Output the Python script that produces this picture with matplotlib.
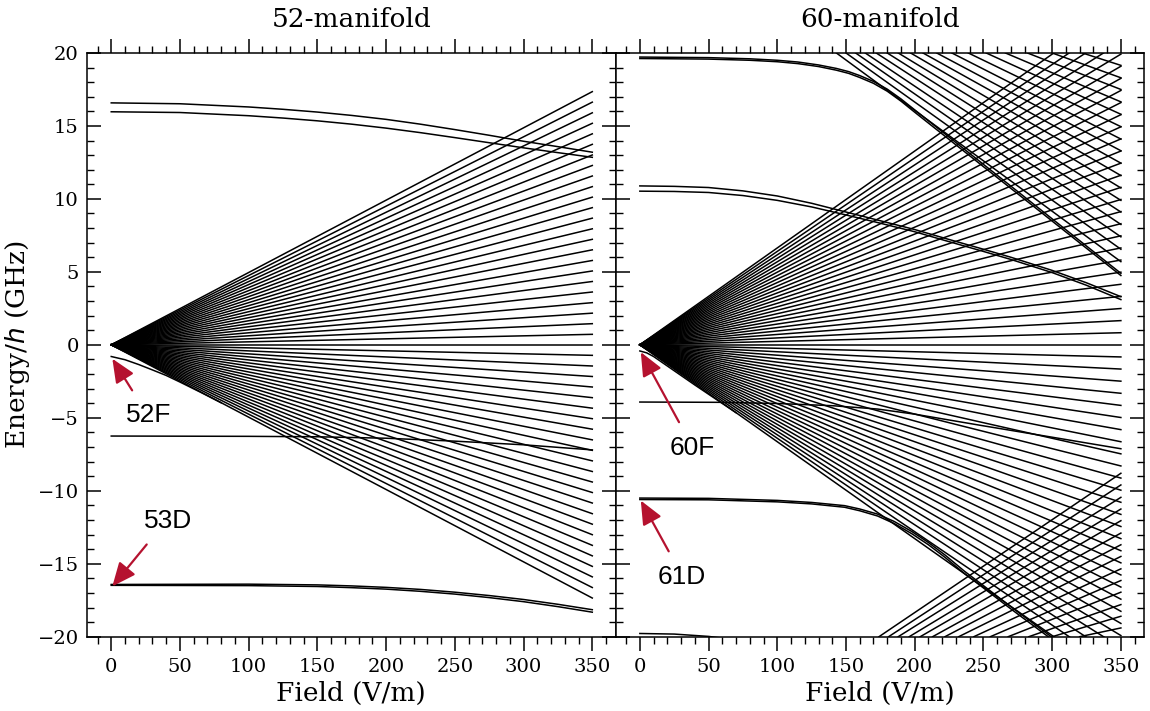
import matplotlib
matplotlib.use("Agg")
import matplotlib.pyplot as plt
from matplotlib.ticker import MultipleLocator

# ---- 52-manifold (left) ----
# hydrogenic fan from the origin: energy (GHz) reached at 350 V/m
fan52_ends = [17.35, 16.63, 15.90, 15.18, 14.46, 13.74, 13.01, 12.29, 11.57, 10.84,
              10.12, 9.40, 8.68, 7.95, 7.23, 6.51, 5.78, 5.06, 4.34, 3.62,
              2.89, 2.17, 1.45, 0.72, 0.00, -0.72, -1.45, -2.17, -2.89, -3.62,
              -4.34, -5.06, -5.78, -6.51, -7.23, -7.95, -8.68, -9.40, -10.12, -10.84,
              -11.57, -12.29, -13.01, -13.74, -14.46, -15.18, -15.90, -16.63, -17.35]

# low-l levels (field V/m, energy GHz)
upper52_x = [0, 50, 100, 125, 150, 175, 200, 225, 250, 275, 300, 325, 350]
upper52_a = [16.58, 16.52, 16.30, 16.14, 15.95, 15.72, 15.45, 15.12, 14.75, 14.36, 13.95, 13.58, 13.20]
upper52_b = [15.97, 15.92, 15.70, 15.54, 15.35, 15.12, 14.85, 14.54, 14.20, 13.85, 13.50, 13.17, 12.85]

f52_x = [0, 10, 20, 30, 40, 50, 65, 80]
f52_y = [-0.80, -1.02, -1.35, -1.72, -2.10, -2.55, -3.25, -3.97]

s52_x = [0, 100, 150, 200, 250, 300, 350]
s52_y = [-6.25, -6.27, -6.30, -6.40, -6.60, -6.85, -7.20]

d53_x = [0, 100, 150, 175, 200, 225, 250, 275, 300, 325, 350]
d53_a = [-16.42, -16.40, -16.45, -16.52, -16.62, -16.76, -16.95, -17.18, -17.45, -17.78, -18.15]
d53_b = [-16.48, -16.50, -16.56, -16.64, -16.74, -16.89, -17.08, -17.32, -17.60, -17.94, -18.32]

# ---- 60-manifold (right) ----
fan60_ends = [23.24, 22.41, 21.58, 20.75, 19.92, 19.09, 18.26, 17.43, 16.60, 15.77,
              14.94, 14.11, 13.28, 12.45, 11.62, 10.79, 9.96, 9.13, 8.30, 7.47,
              6.64, 5.81, 4.98, 4.15, 3.32, 2.49, 1.66, 0.83, 0.00, -0.83,
              -1.66, -2.49, -3.32, -4.15, -4.98, -5.81, -6.64, -7.47, -8.30, -9.13,
              -9.96, -10.79, -11.62, -12.45, -13.28, -14.11, -14.94, -15.77, -16.60, -17.43,
              -18.26, -19.09, -19.92, -20.75, -21.58, -22.41, -23.24]

# n=61 states coming down from the top: field where they cross 20 GHz, energy at 350 V/m
n61_x0 = [143, 150, 157, 164, 172, 180, 188, 197, 206, 216, 227, 239, 252, 266, 282, 300, 322]
n61_end = [5.70, 6.55, 7.40, 8.25, 9.10, 9.90, 10.75, 11.60, 12.45, 13.30,
           14.10, 14.95, 15.80, 16.65, 17.50, 18.30, 19.15]

# n=59 states rising from the bottom: field where they cross -20 GHz, energy at 350 V/m
n59_x0 = [174, 181, 188, 196, 204, 213, 222, 232, 243, 255, 268, 283, 300, 320]
n59_end = [-8.80, -9.60, -10.45, -11.25, -12.05, -12.90, -13.70, -14.50, -15.35, -16.15,
           -16.95, -17.80, -18.60, -19.40]

top60_x = [0, 50, 80, 100, 115, 130, 143, 152, 160, 170, 180, 190, 200, 350]
top60_a = [19.72, 19.68, 19.60, 19.50, 19.38, 19.18, 18.94, 18.72, 18.45, 18.05, 17.52, 16.85, 16.10, 4.90]
top60_b = [19.62, 19.58, 19.50, 19.40, 19.27, 19.07, 18.82, 18.60, 18.32, 17.92, 17.38, 16.70, 15.94, 4.75]

mid60_x = [0, 25, 50, 75, 100, 125, 150, 173, 200, 222, 250, 270, 300, 325, 350]
mid60_a = [10.89, 10.86, 10.78, 10.55, 10.20, 9.70, 9.10, 8.55, 7.90, 7.30, 6.55, 6.00, 5.10, 4.25, 3.30]
mid60_b = [10.53, 10.51, 10.44, 10.23, 9.90, 9.45, 8.90, 8.38, 7.75, 7.15, 6.40, 5.85, 4.95, 4.08, 3.10]

f60_x = [0, 5, 10, 20, 30, 40, 55, 70]
f60_y = [-0.42, -0.55, -0.80, -1.45, -2.10, -2.75, -3.70, -4.65]

s60_x = [0, 60, 100, 140, 173, 200, 250, 300, 350]
s60_y = [-3.92, -3.94, -4.02, -4.17, -4.40, -4.75, -5.55, -6.33, -7.12]

d61_x = [0, 50, 100, 125, 149, 160, 173, 185, 198, 210, 222, 236, 250, 270, 300]
d61_a = [-10.50, -10.52, -10.66, -10.80, -11.02, -11.25, -11.60, -12.10, -12.80,
         -13.55, -14.40, -15.50, -16.50, -17.95, -20.05]
d61_b = [-10.60, -10.62, -10.76, -10.90, -11.13, -11.37, -11.73, -12.24, -12.95,
         -13.70, -14.56, -15.66, -16.66, -18.10, -20.20]

low60_x = [0, 25, 50, 60]
low60_y = [-19.78, -19.82, -19.98, -20.10]

x_end = 350
red = '#b5122f'
lw = 1.1

plt.rcParams['font.family'] = 'DejaVu Serif'
plt.rcParams['axes.linewidth'] = 1.1

fig, axes = plt.subplots(1, 2, figsize=(11.5, 7.11), dpi=100, sharey=True)
fig.subplots_adjust(left=0.0757, right=0.9950, top=0.9255, bottom=0.1045, wspace=0)
ax1, ax2 = axes

# left panel
for e in fan52_ends:
    ax1.plot([0, x_end], [0, e], color='k', lw=lw)
ax1.plot(upper52_x, upper52_a, color='k', lw=lw)
ax1.plot(upper52_x, upper52_b, color='k', lw=lw)
ax1.plot(f52_x, f52_y, color='k', lw=lw)
ax1.plot(s52_x, s52_y, color='k', lw=lw)
ax1.plot(d53_x, d53_a, color='k', lw=lw)
ax1.plot(d53_x, d53_b, color='k', lw=lw)

# right panel
for e in fan60_ends:
    ax2.plot([0, x_end], [0, e], color='k', lw=lw)
for x0, e in zip(n61_x0, n61_end):
    ax2.plot([x0, x_end], [20, e], color='k', lw=lw)
for x0, e in zip(n59_x0, n59_end):
    ax2.plot([x0, x_end], [-20, e], color='k', lw=lw)
ax2.plot(top60_x, top60_a, color='k', lw=lw)
ax2.plot(top60_x, top60_b, color='k', lw=lw)
ax2.plot(mid60_x, mid60_a, color='k', lw=lw)
ax2.plot(mid60_x, mid60_b, color='k', lw=lw)
ax2.plot(f60_x, f60_y, color='k', lw=lw)
ax2.plot(s60_x, s60_y, color='k', lw=lw)
ax2.plot(d61_x, d61_a, color='k', lw=lw)
ax2.plot(d61_x, d61_b, color='k', lw=lw)
ax2.plot(low60_x, low60_y, color='k', lw=lw)

# labels with red arrows
arrow = dict(arrowstyle='-|>,head_length=0.8,head_width=0.35', color=red, lw=1.6,
             mutation_scale=18, shrinkA=0, shrinkB=0)
labels = [(ax1, '52F', (26.9, -4.83), (15.2, -3.12), (0.8, -0.95)),
          (ax1, '53D', (41.0, -12.04), (25.8, -13.68), (0.8, -16.55)),
          (ax2, '60F', (38.2, -7.07), (28.5, -5.30), (0.7, -0.50)),
          (ax2, '61D', (30.4, -15.93), (21.0, -14.15), (0.7, -10.67))]
for ax, txt, tpos, tail, tip in labels:
    ax.annotate('', xy=tip, xytext=tail, arrowprops=arrow)
    ax.text(tpos[0], tpos[1], txt, family='Liberation Sans', fontsize=19,
            ha='center', va='center')

for ax, title in zip(axes, ['52-manifold', '60-manifold']):
    ax.set_xlim(-17.6, 367)
    ax.set_ylim(-20, 20)
    ax.xaxis.set_major_locator(MultipleLocator(50))
    ax.xaxis.set_minor_locator(MultipleLocator(10))
    ax.yaxis.set_major_locator(MultipleLocator(5))
    ax.yaxis.set_minor_locator(MultipleLocator(1))
    ax.tick_params(axis='x', which='both', direction='out', top=True, bottom=True)
    ax.tick_params(axis='x', which='major', length=10, width=1.1, labelsize=14, pad=5)
    ax.tick_params(axis='x', which='minor', length=5, width=1.0)
    ax.tick_params(axis='y', which='both', direction='in', left=True, right=True)
    ax.tick_params(axis='y', which='major', length=10, width=1.1, labelsize=14, pad=6)
    ax.tick_params(axis='y', which='minor', length=5, width=1.0)
    ax.set_xlabel('Field (V/m)', fontsize=19)
    ax.set_title(title, fontsize=19, pad=19)

ax1.set_ylabel('Energy/$h$ (GHz)', fontsize=19)

fig.savefig('out.png', dpi=100)
